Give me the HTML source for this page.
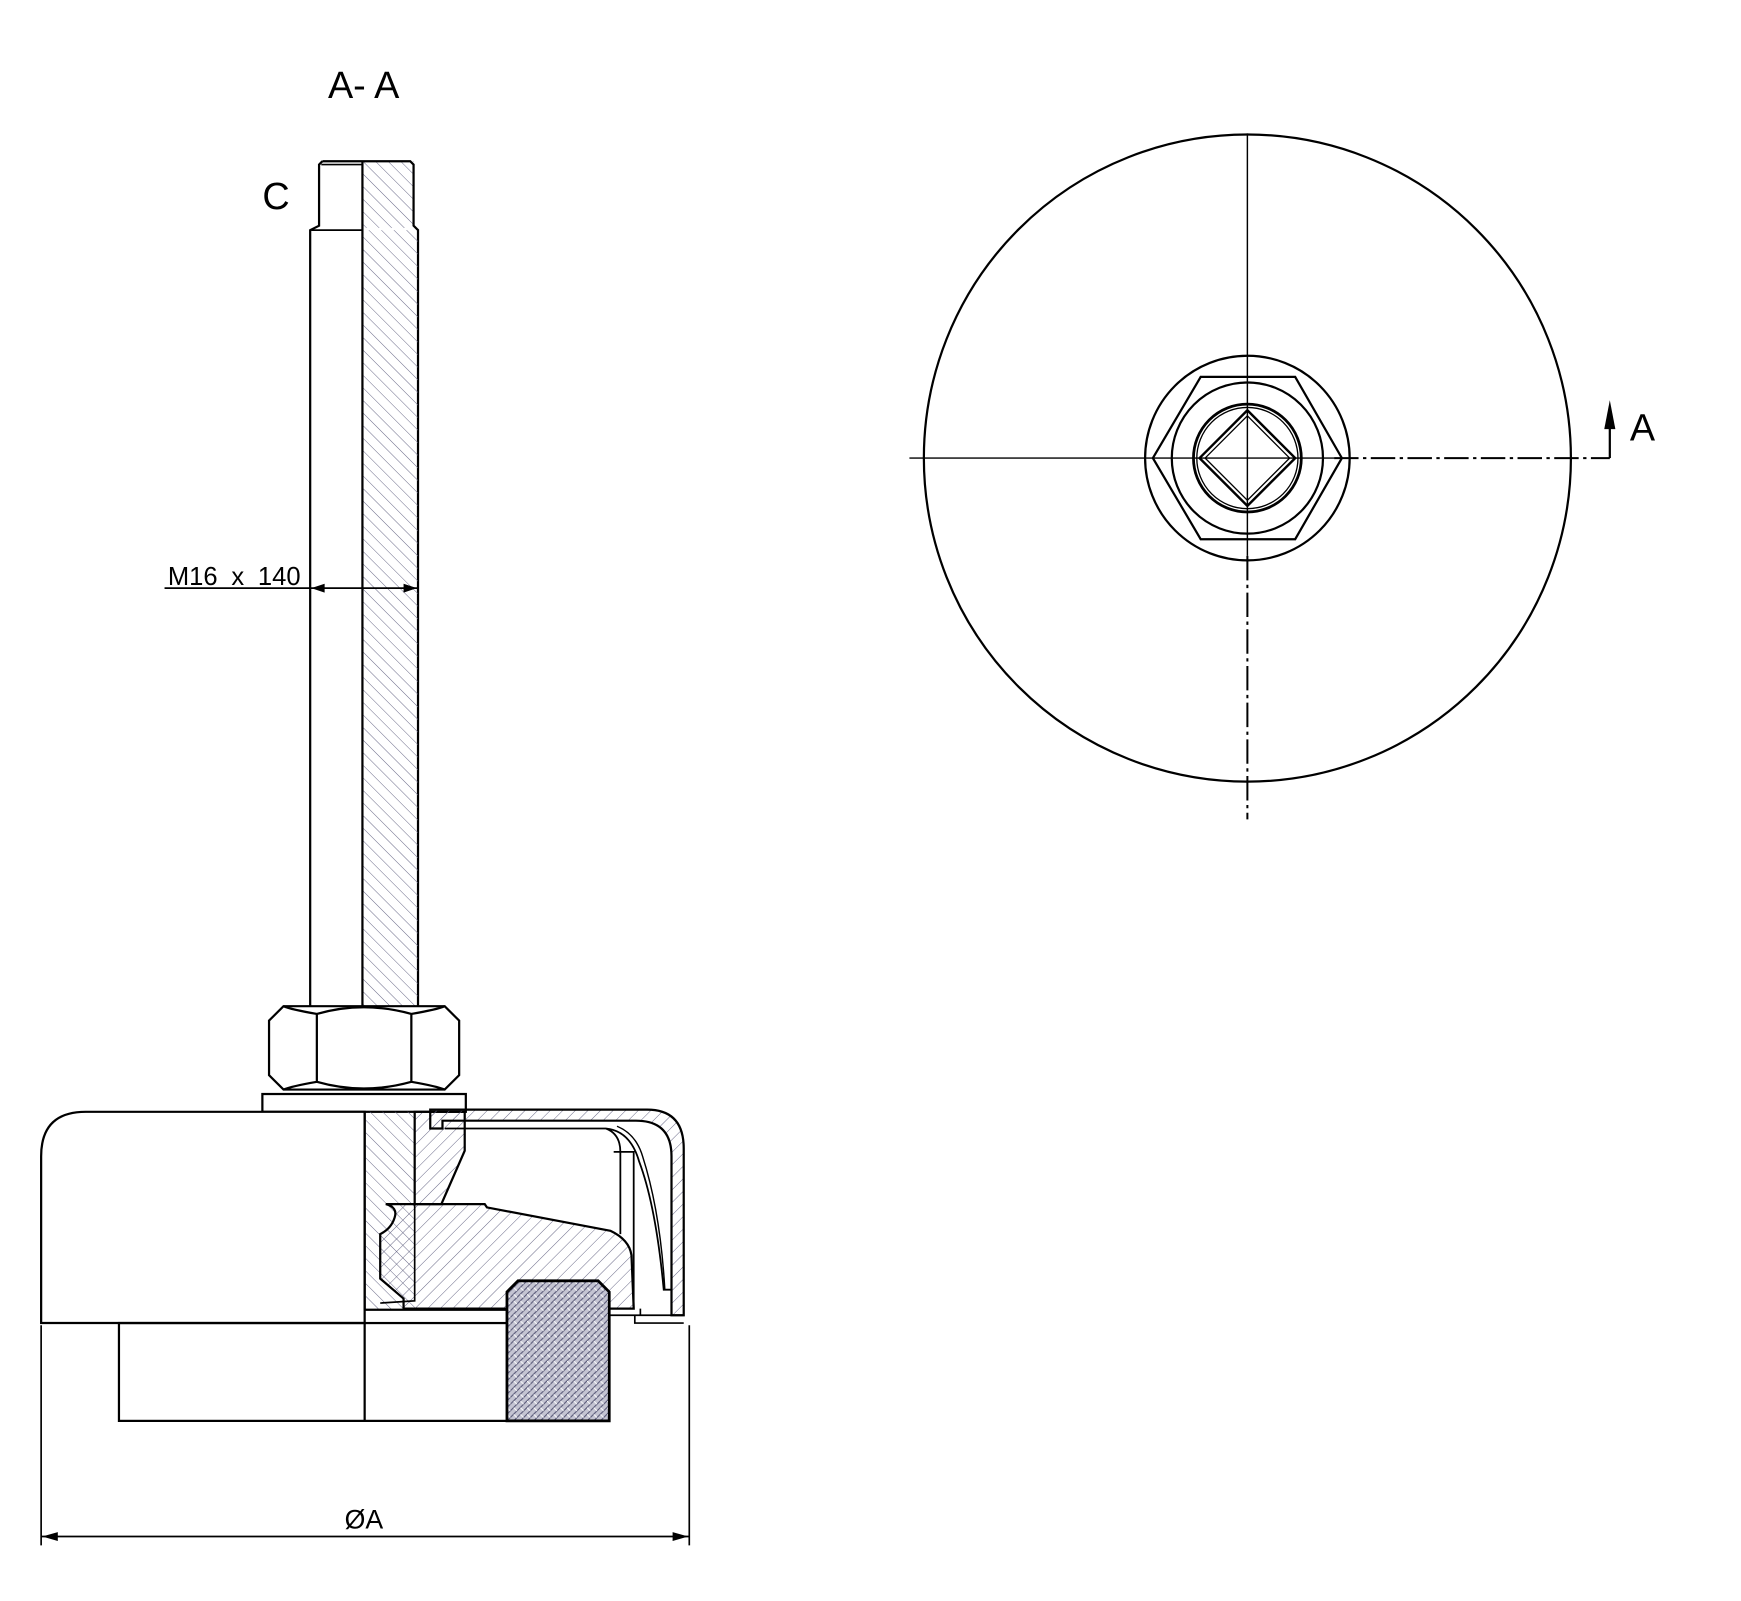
<!DOCTYPE html>
<html><head><meta charset="utf-8"><style>html,body{margin:0;padding:0;background:#fff}svg{display:block}</style></head><body>
<svg width="1741" height="1601" viewBox="0 0 1566 1440" preserveAspectRatio="none" xmlns="http://www.w3.org/2000/svg" font-family="Liberation Sans, sans-serif">
<defs>
<pattern id="h1" patternUnits="userSpaceOnUse" width="8" height="8" patternTransform="rotate(45)"><line x1="0" y1="0" x2="0" y2="8" stroke="#6a6a88" stroke-width="0.9"/></pattern>
<pattern id="h2" patternUnits="userSpaceOnUse" width="8" height="8" patternTransform="rotate(-45)"><line x1="0" y1="0" x2="0" y2="8" stroke="#6a6a88" stroke-width="0.9"/></pattern>
<pattern id="x1" patternUnits="userSpaceOnUse" width="6" height="6"><rect width="6" height="6" fill="#c4c4d2"/><path d="M0 6L6 0M-1 1L1 -1M5 7L7 5" stroke="#505070" stroke-width="0.9"/><path d="M0 0L3 3" stroke="#fff" stroke-width="0.8"/></pattern>
</defs>
<g fill="none" stroke="#000" stroke-width="2">
<text x="295" y="88" font-size="34" fill="#000" stroke="none">A- A</text>
<text x="236" y="188" font-size="34" fill="#000" stroke="none">C</text>
<rect x="326" y="145" width="46" height="60" fill="url(#h2)" stroke="none"/>
<path d="M290 145 L369 145 L372 148 L372 203 L376 207 L376 905"/>
<path d="M290 145 L287 148 L287 203 L279 207 L279 905"/>
<line x1="289" y1="148" x2="326" y2="148" stroke-width="1.5"/>
<line x1="280" y1="207" x2="326" y2="207" stroke-width="1.5"/>
<rect x="326" y="207" width="50" height="698" fill="url(#h2)" stroke="none"/>
<line x1="326" y1="145" x2="326" y2="905"/>
<line x1="148" y1="529" x2="376" y2="529" stroke-width="1.5"/>
<path d="M280 529 L292 525 L292 533 Z M375 529 L363 525 L363 533 Z" fill="#000" stroke="none"/>
<text x="151" y="526" font-size="23" fill="#000" stroke="none" word-spacing="6">M16 x 140</text>
<path d="M255 905 L400 905 L413 918 L413 967 L400 980 L255 980 L242 967 L242 918 Z" fill="#fff"/>
<path d="M285 912 Q327 900 370 912 M285 973 Q327 985 370 973 M285 912 L285 973 M370 912 L370 973 M255 905 Q262 908 285 912 M400 905 Q393 908 370 912 M255 980 Q262 977 285 973 M400 980 Q393 977 370 973"/>
<rect x="236" y="984" width="183" height="16" fill="#fff"/>
<path d="M37 1190 L37 1040 Q37 1000 77 1000 L328 1000 L328 1190 Z" fill="#fff"/>
<rect x="107" y="1190" width="441" height="88"/>
<line x1="328" y1="1190" x2="328" y2="1278"/>
<rect x="328" y="1000" width="45" height="178" fill="url(#h2)" stroke="none"/>
<path d="M373 1000 L418 1000 L418 1035 L397 1083 L373 1083 Z" fill="url(#h1)"/>
<path d="M387 998 L582 998 Q615 998 615 1033 L615 1183 L604 1183 L604 1040 Q604 1008 572 1008 L398 1008 L398 1015 L387 1015 Z" fill="url(#h1)"/>
<line x1="328" y1="1000" x2="328" y2="1178"/>
<path d="M347 1083 L436 1083 L438 1086 L549 1107 Q566 1115 568 1129 L570 1177 L363 1177 L363 1168 L342 1150 L342 1110 Q352 1105 355 1095 Q358 1086 347 1083 Z" fill="url(#h1)"/>
<path d="M373 1083 L373 1170 L342 1172" stroke-width="1.5"/>
<line x1="328" y1="1178" x2="548" y2="1178"/>
<path d="M400 1015 L545 1015 Q558 1020 558 1036 L558 1110 M552 1036 L570 1036 L570 1177 M545 1015 Q567 1017 575 1045 Q590 1085 597 1160 L604 1160" stroke-width="1.6"/>
<path d="M555 1013 Q572 1020 578 1040 Q594 1090 598 1160" stroke-width="1.3"/>
<path d="M548 1183 L615 1183 M576 1177 L576 1183 M571 1183 L571 1190 L615 1190" stroke-width="1.5"/>
<path d="M456 1278 L456 1162 L466 1152 L538 1152 L548 1162 L548 1278 Z" fill="url(#x1)" stroke-width="2.5"/>
<line x1="37" y1="1192" x2="37" y2="1390" stroke-width="1.5"/>
<line x1="620" y1="1192" x2="620" y2="1390" stroke-width="1.5"/>
<line x1="37" y1="1382" x2="620" y2="1382" stroke-width="1.5"/>
<path d="M38 1382 L52 1378 L52 1386 Z M619 1382 L605 1378 L605 1386 Z" fill="#000" stroke="none"/>
<text x="310" y="1375" font-size="24" fill="#000" stroke="none">ØA</text>
<circle cx="1122" cy="412" r="291"/>
<line x1="818" y1="412" x2="1200" y2="412" stroke-width="1.3"/>
<line x1="1200" y1="412" x2="1448" y2="412" stroke-width="1.8" stroke-dasharray="22 4 3 4"/>
<line x1="1122" y1="120" x2="1122" y2="500" stroke-width="1.3"/>
<line x1="1122" y1="500" x2="1122" y2="737" stroke-width="1.8" stroke-dasharray="22 4 3 4"/>
<line x1="1448" y1="412" x2="1448" y2="372"/>
<path d="M1448 360 L1443 386 L1453 386 Z" fill="#000" stroke="none"/>
<text x="1466" y="396" font-size="34" fill="#000" stroke="none">A</text>
<circle cx="1122" cy="412" r="92"/>
<path d="M1037 412 L1080 339 L1165 339 L1207 412 L1165 485 L1080 485 Z"/>
<circle cx="1122" cy="412" r="68"/>
<circle cx="1122" cy="412" r="48.5" stroke-width="2.5"/>
<circle cx="1122" cy="412" r="45.5" stroke-width="1.2"/>
<path d="M1122 369 L1165 412 L1122 455 L1079 412 Z" stroke-width="2.2"/>
<path d="M1122 374 L1160 412 L1122 450 L1084 412 Z" stroke-width="1.2"/>
</g>
</svg>
</body></html>
